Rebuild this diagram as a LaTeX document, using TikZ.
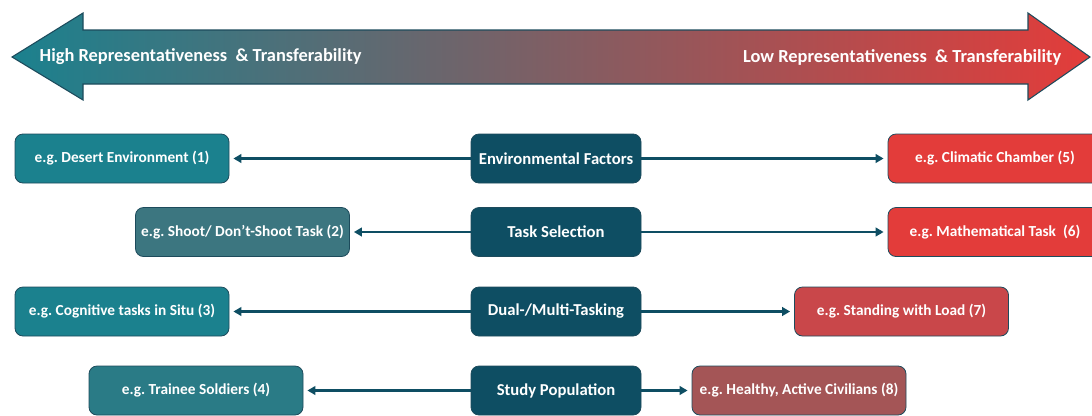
\documentclass[tikz,border=0pt]{standalone}
\usepackage{fontspec}
\setmainfont{Carlito}
\usetikzlibrary{arrows.meta}

\definecolor{tealA}{HTML}{1B818E}
\definecolor{tealB}{HTML}{3C7680}
\definecolor{tealC}{HTML}{2A7B86}
\definecolor{navy}{HTML}{0E4E63}
\definecolor{redA}{HTML}{E33C3A}
\definecolor{redB}{HTML}{C9474A}
\definecolor{redC}{HTML}{A45556}
\definecolor{edge}{HTML}{1D4B5C}
\definecolor{midgrey}{HTML}{5A646C}

\begin{document}
\frenchspacing
\begin{tikzpicture}[x=0.75pt,y=-0.75pt,
    box/.style={draw=edge, line width=0.6pt, rounded corners=6pt, text=white,
        font=\bfseries\fontsize{11.5}{13}\selectfont, minimum height=36.75pt},
    side/.style={box, minimum width=160.5pt},
    factor/.style={box, fill=navy, minimum width=127.5pt,
        font=\bfseries\fontsize{12.5}{14}\selectfont},
    scalelabel/.style={text=white, font=\bfseries\fontsize{13.8}{16}\selectfont},
    link/.style={draw=navy, line width=1.8pt,
        -{Stealth[length=6pt,width=6.5pt,inset=0pt]}, shorten >=3pt}]
    \useasboundingbox (0,0) rectangle (1092,415);

    % Double headed scale arrow
    \shade[left color=tealA, middle color=midgrey, right color=redA, draw=edge, line width=0.8pt]
        (12,57) -- (83,13) -- (83,30) -- (1028,30) -- (1028,13) -- (1090,57)
        -- (1028,100) -- (1028,84) -- (83,84) -- (83,100) -- cycle;
    \node[scalelabel, anchor=west] (high) at (35,57)
        {High Representativeness\ \ \& Transferability};
    \node[scalelabel, anchor=east] (low) at (1066,57)
        {Low Representativeness\ \ \& Transferability};

    % Factors
    \node[factor] (env) at (556,158.5) {Environmental Factors};
    \node[factor] (task) at (556,232) {Task Selection};
    \node[factor] (dual) at (556,311.5) {Dual-/Multi-Tasking};
    \node[factor] (pop) at (556,390.5) {Study Population};

    % High end examples
    \node[side, fill=tealA] (desert) at (122,158.5) {e.g. Desert Environment (1)};
    \node[side, fill=tealB] (shoot) at (242.5,232) {e.g. Shoot/ Don’t-Shoot Task (2)};
    \node[side, fill=tealA] (situ) at (122,311.5) {e.g. Cognitive tasks in Situ (3)};
    \node[side, fill=tealC] (trainee) at (196,390.5) {e.g. Trainee Soldiers (4)};

    % Low end examples
    \node[side, fill=redA] (chamber) at (995,158.5) {e.g. Climatic Chamber (5)};
    \node[side, fill=redA] (math) at (995,232) {e.g. Mathematical Task\ \ (6)};
    \node[side, fill=redB] (load) at (901.5,311.5) {e.g. Standing with Load (7)};
    \node[side, fill=redC] (civil) at (799,390.5) {e.g. Healthy, Active Civilians (8)};

    % Arrows
    \foreach \f/\hi/\lo in {env/desert/chamber, task/shoot/math, dual/situ/load, pop/trainee/civil} {
        \draw[link] (\f) -- (\hi);
        \draw[link] (\f) -- (\lo);
    }
\end{tikzpicture}
\end{document}
